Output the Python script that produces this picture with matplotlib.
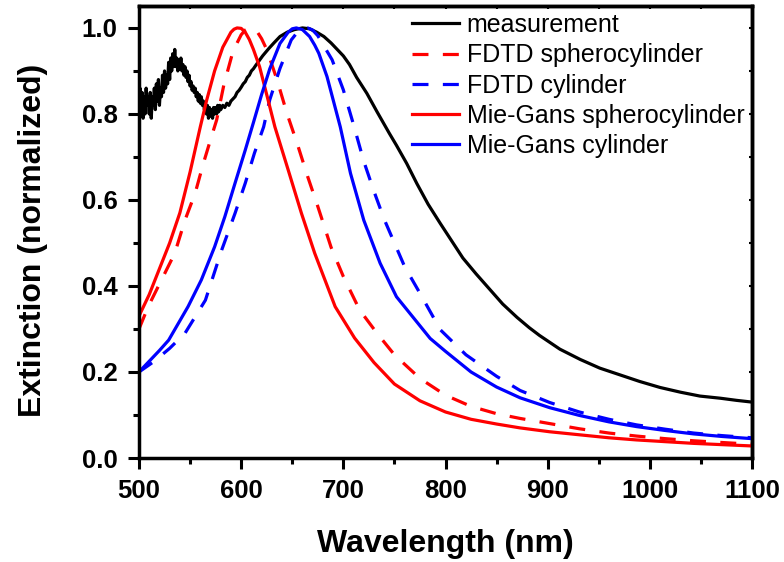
import matplotlib
matplotlib.use('Agg')
import matplotlib.pyplot as plt
from matplotlib.ticker import MultipleLocator, FormatStrFormatter

plt.rcParams['font.family'] = ['Liberation Sans', 'DejaVu Sans']

# ---------------- data ----------------
meas_wl = [500, 501, 502, 503, 504, 505, 506, 507, 508, 509, 510, 511, 512, 513, 514, 515, 516,
           517, 518, 519, 520, 521, 522, 523, 524, 525, 526, 527, 528, 529, 530, 531, 532, 533,
           534, 535, 536, 537, 538, 539, 540, 541, 542, 543, 544, 545, 546, 547, 548, 549, 550,
           551, 552, 553, 554, 555, 556, 557, 558, 559, 560, 561, 562, 563, 564, 565, 566, 567,
           568, 569, 570, 571, 572, 573, 574, 575, 576, 577, 578, 579, 580, 582, 584, 586, 588,
           590, 592, 594, 596, 598, 600, 602, 604, 606, 608, 610, 612, 614, 617, 621, 627, 632,
           638, 645, 652, 660, 667, 674, 681, 688, 694, 700, 706, 713, 723, 733, 745, 752, 762,
           772, 783, 795, 806, 817, 830, 843, 856, 870, 882, 892, 912, 932, 951, 971, 990, 1010,
           1030, 1049, 1069, 1085, 1100]
meas_val = [0.83, 0.86, 0.81, 0.85, 0.79, 0.84, 0.80, 0.86, 0.82, 0.84, 0.80, 0.85, 0.79, 0.84,
            0.82, 0.86, 0.81, 0.87, 0.83, 0.88, 0.82, 0.86, 0.84, 0.89, 0.85, 0.90, 0.86, 0.89,
            0.87, 0.92, 0.88, 0.93, 0.90, 0.94, 0.91, 0.95, 0.91, 0.93, 0.90, 0.925, 0.905, 0.93,
            0.90, 0.915, 0.89, 0.91, 0.885, 0.90, 0.875, 0.89, 0.865, 0.875, 0.855, 0.865, 0.85,
            0.86, 0.84, 0.85, 0.83, 0.845, 0.825, 0.84, 0.82, 0.83, 0.81, 0.825, 0.80, 0.82, 0.79,
            0.815, 0.795, 0.81, 0.79, 0.815, 0.80, 0.815, 0.80, 0.82, 0.805, 0.82, 0.81, 0.82,
            0.815, 0.825, 0.82, 0.83, 0.835, 0.84, 0.85, 0.855, 0.862, 0.87, 0.875, 0.885, 0.89,
            0.90, 0.905, 0.912, 0.922, 0.935, 0.952, 0.965, 0.98, 0.99, 0.996, 1.0, 0.998, 0.99,
            0.98, 0.965, 0.95, 0.935, 0.915, 0.885, 0.848, 0.805, 0.755, 0.727, 0.685, 0.638,
            0.59, 0.545, 0.505, 0.465, 0.428, 0.393, 0.358, 0.327, 0.303, 0.285, 0.253, 0.229,
            0.209, 0.193, 0.178, 0.164, 0.153, 0.144, 0.139, 0.134, 0.13]

fdtd_sph_wl = [500, 509, 522, 535, 545, 555, 563, 570, 576, 583, 591, 596, 600, 604, 608, 612,
               616, 620, 625, 635, 645, 655, 665, 675, 688, 700, 716, 733, 750, 775, 800, 825,
               850, 873, 902, 931, 960, 987, 1015, 1043, 1071, 1100]
fdtd_sph_val = [0.30, 0.352, 0.414, 0.476, 0.553, 0.616, 0.685, 0.74, 0.786, 0.867, 0.937, 0.965,
                0.984, 0.995, 1.0, 0.998, 0.99, 0.975, 0.95, 0.88, 0.80, 0.73, 0.655, 0.585, 0.49,
                0.422, 0.344, 0.29, 0.24, 0.185, 0.146, 0.12, 0.103, 0.092, 0.08, 0.068, 0.058,
                0.051, 0.045, 0.040, 0.036, 0.032]

fdtd_cyl_wl = [500, 515, 530, 545, 565, 581, 594, 604, 613, 622, 628, 638, 649, 655, 660, 665,
               670, 675, 680, 689, 700, 710, 720, 730, 740, 750, 760, 775, 795, 820, 850, 873,
               902, 931, 960, 987, 1015, 1043, 1071, 1100]
fdtd_cyl_val = [0.20, 0.225, 0.255, 0.29, 0.367, 0.484, 0.569, 0.639, 0.709, 0.77, 0.833, 0.906,
                0.972, 0.99, 0.999, 1.0, 0.995, 0.982, 0.962, 0.926, 0.856, 0.775, 0.69, 0.62,
                0.555, 0.50, 0.445, 0.383, 0.298, 0.24, 0.19, 0.157, 0.129, 0.107, 0.09, 0.077,
                0.067, 0.058, 0.052, 0.047]

mg_sph_wl = [500, 510, 520, 530, 540, 550, 560, 566, 574, 582, 590, 593, 596, 600, 604, 608, 612,
             618, 625, 633, 646, 659, 672, 687, 692, 711, 730, 750, 775, 800, 825, 850, 873, 902,
             931, 960, 987, 1015, 1043, 1071, 1100]
mg_sph_val = [0.33, 0.38, 0.44, 0.50, 0.57, 0.665, 0.77, 0.83, 0.90, 0.955, 0.99, 0.997, 1.0,
              0.999, 0.99, 0.973, 0.95, 0.91, 0.845, 0.77, 0.67, 0.569, 0.476, 0.383, 0.352, 0.279,
              0.222, 0.172, 0.133, 0.107, 0.09, 0.079, 0.07, 0.061, 0.054, 0.047, 0.042, 0.038,
              0.034, 0.031, 0.028]

mg_cyl_wl = [500, 510, 520, 529, 548, 561, 574, 584, 594, 604, 612, 620, 628, 638, 646, 650, 654,
             660, 667, 672, 676, 684, 690, 697, 707, 720, 736, 752, 785, 800, 825, 850, 873, 902,
             931, 960, 987, 1015, 1043, 1071, 1100]
mg_cyl_val = [0.20, 0.225, 0.25, 0.274, 0.352, 0.414, 0.491, 0.561, 0.639, 0.716, 0.78, 0.845,
              0.905, 0.964, 0.99, 0.998, 1.0, 0.996, 0.98, 0.96, 0.941, 0.887, 0.833, 0.77, 0.662,
              0.553, 0.453, 0.375, 0.278, 0.248, 0.20, 0.165, 0.14, 0.117, 0.099, 0.084, 0.073,
              0.064, 0.056, 0.050, 0.045]

labels = ['measurement', 'FDTD spherocylinder', 'FDTD cylinder',
          'Mie-Gans spherocylinder', 'Mie-Gans cylinder']

# ---------------- figure ----------------
fig = plt.figure(figsize=(7.84, 5.62), dpi=100)
ax = fig.add_axes([139/784, 1-458/562, 613/784, 452/562])

lw = 2.3
dash = (5, 4.5)
ax.plot(meas_wl, meas_val, color='black', lw=lw, label=labels[0])
ax.plot(fdtd_sph_wl, fdtd_sph_val, color='#ff0000', lw=lw, ls=(0, dash), label=labels[1])
ax.plot(fdtd_cyl_wl, fdtd_cyl_val, color='#0000ff', lw=lw, ls=(0, dash), label=labels[2])
ax.plot(mg_sph_wl, mg_sph_val, color='#ff0000', lw=lw, label=labels[3])
ax.plot(mg_cyl_wl, mg_cyl_val, color='#0000ff', lw=lw, label=labels[4])

ax.set_xlim(500, 1100)
ax.set_ylim(0, 1.051)

ax.xaxis.set_major_locator(MultipleLocator(100))
ax.xaxis.set_minor_locator(MultipleLocator(50))
ax.yaxis.set_major_locator(MultipleLocator(0.2))
ax.yaxis.set_minor_locator(MultipleLocator(0.1))
ax.yaxis.set_major_formatter(FormatStrFormatter('%.1f'))

for s in ax.spines.values():
    s.set_linewidth(2.5)

ax.tick_params(axis='both', which='major', direction='out', length=8, width=2.2,
               labelsize=18.5)
ax.tick_params(axis='x', which='major', pad=7)
ax.tick_params(axis='y', which='major', pad=7.5)
ax.tick_params(axis='both', which='minor', direction='out', length=4.5, width=2.2)
for lab in ax.get_xticklabels() + ax.get_yticklabels():
    lab.set_fontweight('bold')

# tiny ticks on top / right (no labels)
axt = ax.secondary_xaxis('top')
axt.xaxis.set_major_locator(MultipleLocator(50))
axt.tick_params(direction='in', length=2, width=1.5, labeltop=False)
axt.spines['top'].set_linewidth(2.5)
axr = ax.secondary_yaxis('right')
axr.yaxis.set_major_locator(MultipleLocator(0.1))
axr.tick_params(direction='in', length=2, width=1.5, labelright=False)
axr.spines['right'].set_linewidth(2.5)

ax.set_xlabel('Wavelength (nm)', fontsize=23, fontweight='bold')
ax.set_ylabel('Extinction (normalized)', fontsize=23, fontweight='bold')
ax.xaxis.set_label_coords(0.499, -0.156)
ax.yaxis.set_label_coords(-0.149, 0.482)

ax.legend(loc='upper left', bbox_to_anchor=(0.445, 0.984), frameon=False,
          fontsize=18, labelspacing=0.25, handlelength=1.9, handletextpad=0.3,
          borderpad=0, borderaxespad=0)

fig.savefig('out.png', dpi=100)
